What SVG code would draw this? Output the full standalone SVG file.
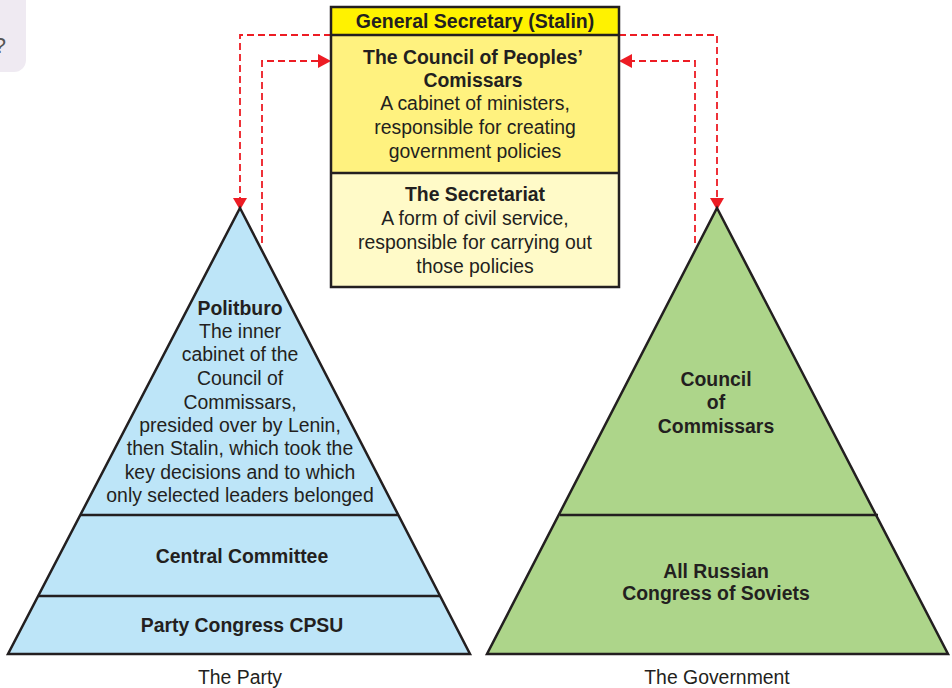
<svg xmlns="http://www.w3.org/2000/svg" width="952" height="688" viewBox="0 0 952 688">
<defs>
<style>
text{font-family:"Liberation Sans",Arial,sans-serif;fill:#231f20;text-anchor:middle;font-size:19.4px}
.b{font-weight:bold}
.edge{fill:none;stroke:#231f20;stroke-width:2.5}
.blue{fill:#bde5f8;stroke:#231f20;stroke-width:2.5}
.green{fill:#add58a;stroke:#231f20;stroke-width:2.5}
.dash{fill:none;stroke:#ed1c24;stroke-width:1.8;stroke-dasharray:7,4}
.head{fill:#ed1c24}
</style>
</defs>
<rect width="952" height="688" fill="#ffffff"/>
<g id="corner">
<rect x="-20" y="-20" width="46" height="92" rx="12" fill="#efeaf2"/>
<text x="6" y="53" style="font-size:22px;fill:#555;text-anchor:end">?</text>
</g>
<g id="connectors">
<path class="dash" d="M331,35 H240 V200"/>
<path class="head" d="M233,198 L247,198 L240,210 Z"/>
<path class="dash" d="M262,243 V61 H322"/>
<path class="head" d="M318,54 L318,68 L331,61 Z"/>
<path class="dash" d="M619,35 H717 V200"/>
<path class="head" d="M710,198 L724,198 L717,210 Z"/>
<path class="dash" d="M695,243 V61 H628"/>
<path class="head" d="M632,54 L632,68 L619,61 Z"/>
</g>
<g id="top-box">
<rect x="331" y="7" width="288" height="28" fill="#fff200"/>
<rect x="331" y="35" width="288" height="138" fill="#fff27f"/>
<rect x="331" y="173" width="288" height="114" fill="#fffac8"/>
<rect x="331" y="7" width="288" height="280" class="edge"/>
<line x1="331" y1="35" x2="619" y2="35" class="edge"/>
<line x1="331" y1="173" x2="619" y2="173" class="edge"/>
<text x="475" y="28" class="b" style="font-size:19.5px">General Secretary (Stalin)</text>
<text x="473" y="64" class="b">The Council of Peoples’</text>
<text x="473" y="87" class="b">Comissars</text>
<text x="475" y="110">A cabinet of ministers,</text>
<text x="475" y="134">responsible for creating</text>
<text x="475" y="158">government policies</text>
<text x="475" y="201" class="b">The Secretariat</text>
<text x="475" y="225">A form of civil service,</text>
<text x="475" y="249">responsible for carrying out</text>
<text x="475" y="273">those policies</text>
</g>
<g id="party">
<path d="M240,208 L470,654 L8,654 Z" class="blue"/>
<line x1="80" y1="515" x2="398" y2="515" class="edge"/>
<line x1="39" y1="596" x2="440" y2="596" class="edge"/>
<text x="240" y="315" class="b">Politburo</text>
<text x="240" y="338">The inner</text>
<text x="240" y="361">cabinet of the</text>
<text x="240" y="385">Council of</text>
<text x="240" y="409">Commissars,</text>
<text x="240" y="432">presided over by Lenin,</text>
<text x="240" y="455">then Stalin, which took the</text>
<text x="240" y="479">key decisions and to which</text>
<text x="240" y="502">only selected leaders belonged</text>
<text x="242" y="563" class="b">Central Committee</text>
<text x="242" y="632" class="b">Party Congress CPSU</text>
<text x="240" y="684">The Party</text>
</g>
<g id="government">
<path d="M717,208 L948,654 L487,654 Z" class="green"/>
<line x1="560" y1="515" x2="878" y2="515" class="edge"/>
<text x="716" y="386" class="b">Council</text>
<text x="716" y="409" class="b">of</text>
<text x="716" y="433" class="b">Commissars</text>
<text x="716" y="578" class="b">All Russian</text>
<text x="716" y="600" class="b">Congress of Soviets</text>
<text x="717" y="684">The Government</text>
</g>
</svg>
